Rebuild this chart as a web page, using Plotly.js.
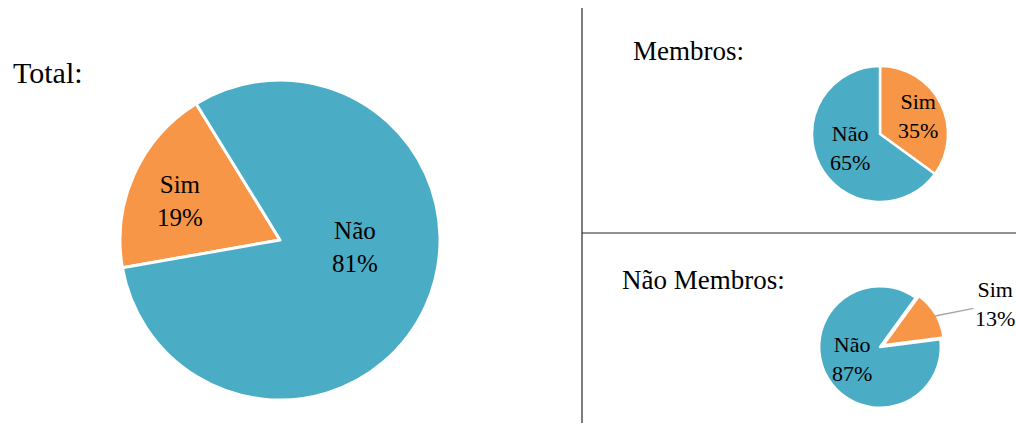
<!DOCTYPE html>
<html>
<head>
<meta charset="utf-8">
<script src="https://cdn.plot.ly/plotly-3.0.1.min.js"></script>
<style>html,body{margin:0;padding:0;background:#fff;}#chart{width:1016px;height:425px;}</style>
</head>
<body>
<div id="chart"></div>
<script>
// Data
var labels = ['Sim', 'Não'];
var totalValues = [19, 81];
var membrosValues = [35, 65];
var naoMembrosValues = [13, 87];
var panelTitles = ['Total:', 'Membros:', 'Não Membros:'];
var colors = ['#F79646', '#4BACC6'];

var serif = 'Liberation Serif, Times New Roman, serif';

function pct(vals, i) {
  var s = vals.reduce(function (a, b) { return a + b; }, 0);
  return Math.round(vals[i] / s * 100) + '%';
}
function lbl(vals, i) { return labels[i] + '<br>' + pct(vals, i); }

var traces = [
  {
    type: 'pie', labels: labels, values: totalValues, sort: false,
    direction: 'clockwise', rotation: 260,
    marker: {colors: colors, line: {color: '#ffffff', width: 3}},
    textinfo: 'none',
    domain: {x: [120/1016, 440/1016], y: [1 - 400/425, 1 - 80/425]},
    hoverinfo: 'skip', showlegend: false
  },
  {
    type: 'pie', labels: labels, values: membrosValues, sort: false,
    direction: 'clockwise', rotation: 0,
    marker: {colors: colors, line: {color: '#ffffff', width: 2.5}},
    textinfo: 'none',
    domain: {x: [812/1016, 948/1016], y: [1 - 202/425, 1 - 66/425]},
    hoverinfo: 'skip', showlegend: false
  },
  {
    type: 'pie', labels: labels, values: naoMembrosValues, sort: false,
    direction: 'clockwise', rotation: 36, pull: [0.06, 0],
    marker: {colors: colors, line: {color: '#ffffff', width: 2.5}},
    textinfo: 'none',
    domain: {x: [815/1016, 945/1016], y: [1 - 411.5/425, 1 - 282.5/425]},
    hoverinfo: 'skip', showlegend: false
  }
];

function ann(px, py, text, size, extra) {
  var a = {xref: 'paper', yref: 'paper', x: px/1016, y: 1 - py/425, xanchor: 'center', yanchor: 'middle',
           text: text, showarrow: false, font: {family: serif, size: size, color: '#000'}};
  if (extra) { for (var k in extra) a[k] = extra[k]; }
  return a;
}

var layout = {
  width: 1016, height: 425,
  margin: {l: 0, r: 0, t: 0, b: 0},
  paper_bgcolor: '#fff', plot_bgcolor: '#fff',
  font: {family: serif, color: '#000'},
  shapes: [
    {type: 'line', xref: 'paper', yref: 'paper', x0: 582/1016, x1: 582/1016, y0: 1 - 423/425, y1: 1 - 8/425, line: {color: '#262626', width: 1.2}},
    {type: 'line', xref: 'paper', yref: 'paper', x0: 582/1016, x1: 1, y0: 1 - 233/425, y1: 1 - 233/425, line: {color: '#262626', width: 1.2}}
  ],
  annotations: [
    ann(11, 72, panelTitles[0], 30, {xanchor: 'left'}),
    ann(631, 51, panelTitles[1], 27, {xanchor: 'left'}),
    ann(620, 280, panelTitles[2], 27, {xanchor: 'left'}),
    // Total
    ann(180, 201, lbl(totalValues, 0), 25),
    ann(355, 247, lbl(totalValues, 1), 25),
    // Membros
    ann(918, 116, lbl(membrosValues, 0), 22),
    ann(850, 148, lbl(membrosValues, 1), 22),
    // Não Membros
    ann(852, 359, lbl(naoMembrosValues, 1), 22),
    {xref: 'paper', yref: 'paper', x: 935/1016, y: 1 - 316/425, xanchor: 'center', yanchor: 'middle',
     text: lbl(naoMembrosValues, 0), showarrow: true, arrowhead: 0, arrowwidth: 1.3, arrowcolor: '#a6a6a6',
     ax: 60, ay: -12, font: {family: serif, size: 22, color: '#000'}}
  ]
};

Plotly.newPlot('chart', traces, layout, {displayModeBar: false, staticPlot: true});
</script>
</body>
</html>
